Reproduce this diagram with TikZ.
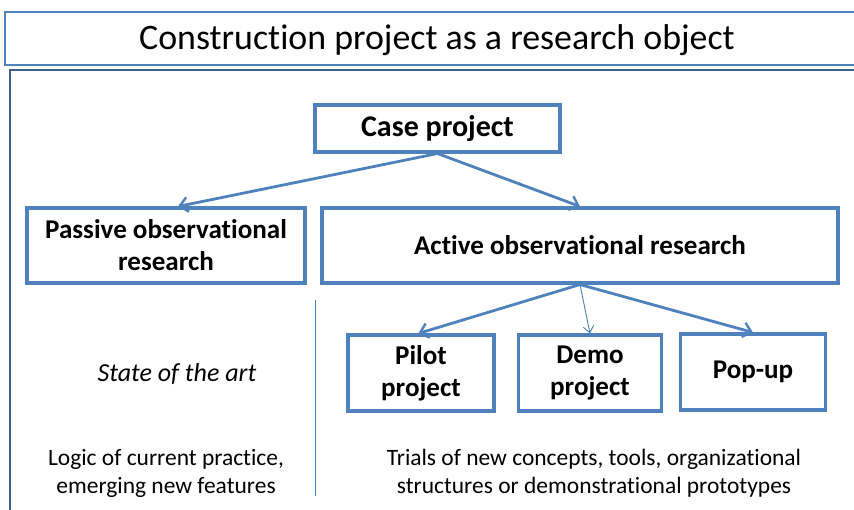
\documentclass[tikz,border=0pt]{standalone}
\usepackage{fontspec}
\setmainfont[Ligatures=NoCommon]{Carlito}
\usepackage{tikz}
\usetikzlibrary{arrows.meta}

\definecolor{boxblue}{RGB}{79,129,189}
\definecolor{frameblue}{RGB}{62,95,140}

\tikzset{
    box/.style={draw=boxblue, line width=2.3pt, align=center, inner sep=0pt,
        font=\fontsize{20.3}{24}\selectfont\bfseries},
    link/.style={draw=boxblue, line width=2.1pt,
        -{Straight Barb[length=6pt,width=11pt,line width=1.8pt]}},
    thinlink/.style={draw=boxblue, line width=0.7pt,
        -{Straight Barb[length=5pt,width=8pt,line width=0.7pt]}},
    note/.style={align=center, font=\fontsize{17.6}{21}\selectfont}
}

\begin{document}
\begin{tikzpicture}[x=0.75pt,y=-0.75pt]
    \useasboundingbox (0,0) rectangle (854,510);

    % title bar and main frame
    \draw[boxblue, line width=1.8pt] (856,12) -- (5,12) -- (5,65) -- (856,65);
    \node (title) at (437,40) {\fontsize{26.9}{30}\selectfont Construction project as a research object};
    \draw[frameblue, line width=2pt] (856,70) -- (10,70) -- (10,512);

    % boxes
    \node[box, minimum width=183.75pt, minimum height=35.25pt, font=\fontsize{22.5}{26}\selectfont\bfseries] (case) at (437.5,128.5) {Case project};
    \node[box, minimum width=208.5pt, minimum height=56.25pt] (passive) at (166,245.5) {Passive observational\\research};
    \node[box, minimum width=387pt, minimum height=56.25pt] (active) at (580,245.5) {Active observational research};
    \node[box, minimum width=109.5pt, minimum height=57pt] (pilot) at (421,373) {Pilot\\project};
    \node[box, minimum width=107.25pt, minimum height=57pt] (demo) at (590,373) {Demo\\project};
    \node[box, minimum width=108.75pt, minimum height=57pt] (popup) at (753,372) {Pop-up};

    % arrows
    \draw[link] (case.south) -- ([xshift=9pt]passive.north);
    \draw[link] (case.south) -- (active.north);
    \draw[link] (active.south) -- ([xshift=-2pt]pilot.north);
    \draw[thinlink] (active.south) -- (demo.north);
    \draw[link] (active.south) -- (popup.north);

    % separator
    \draw[boxblue, line width=0.7pt] (315,300) -- (315,496);

    % texts
    \node[note, font=\fontsize{19.5}{22}\selectfont\itshape] (state) at (177,374) {State of the art};
    \node[note] (logic) at (166,473) {Logic of current practice,\\emerging new features};
    \node[note] (trials) at (594,473) {Trials of new concepts, tools, organizational\\structures or demonstrational prototypes};
\end{tikzpicture}
\end{document}
